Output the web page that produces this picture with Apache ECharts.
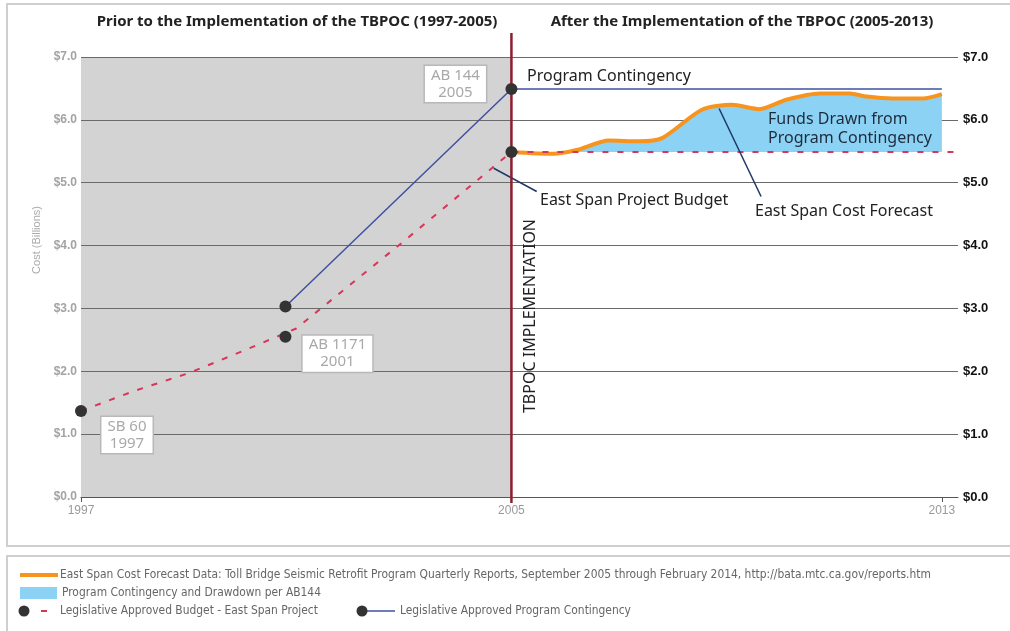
<!DOCTYPE html>
<html>
<head>
<meta charset="utf-8">
<script src="https://cdn.jsdelivr.net/npm/echarts@6/dist/echarts.min.js"></script>
<style>
html, body { margin: 0; padding: 0; background: #fff; }
#chart { width: 1010px; height: 631px; }
</style>
</head>
<body>
<div id="chart"></div>
<script>
// legislative budget for the east span (dashed red)
var budgetYears = [1997, 1998, 1999, 2000, 2001, 2003, 2005, 2013.3];
var budgetValues = [1.37, 1.69, 1.97, 2.32, 2.68, 4.07, 5.49, 5.49];

// approved budget milestones (dots)
var milestoneYears = [1997, 2000.8, 2005];
var milestoneValues = [1.37, 2.55, 5.49];
var milestoneLabels = ['SB 60\n1997', 'AB 1171\n2001', ''];

// program contingency (blue line)
var contYears = [2000.8, 2005, 2013];
var contValues = [3.03, 6.49, 6.49];
var contLabels = ['', 'AB 144\n2005'];

// east span cost forecast (orange), quarterly reports
var forecastYears = [2005.0, 2005.78, 2006.21, 2006.81, 2007.37, 2007.8, 2008.54, 2009.1,
                     2009.61, 2010.11, 2010.73, 2011.29, 2011.6, 2012.09, 2012.65, 2013.0];
var forecastValues = [5.49, 5.46, 5.52, 5.67, 5.66, 5.71, 6.16, 6.24,
                      6.17, 6.32, 6.42, 6.42, 6.37, 6.34, 6.34, 6.41];
var budgetBase = 5.49;

// period before TBPOC (gray band) and the implementation date
var priorYears = [1997, 2005];
var implYear = 2005;
var xLabelYears = [1997, 2005, 2013];

function pairs(xs, ys) {
    var out = [];
    for (var i = 0; i < xs.length; i++) out.push([xs[i], ys[i]]);
    return out;
}

var boxLabel = {
    show: true,
    position: 'inside',
    color: '#a9a9a9',
    fontFamily: 'Noto Sans',
    fontSize: 15,
    lineHeight: 17,
    backgroundColor: '#fff',
    borderColor: '#b8b8b8',
    borderWidth: 1.5,
    padding: [1, 6, 1, 6]
};
var labelOffsets = { 'SB 60\n1997': [46, 24], 'AB 1171\n2001': [52, 17], 'AB 144\n2005': [-56, -5] };

function dots(xs, ys, labels) {
    var out = [];
    for (var i = 0; i < xs.length; i++) {
        var item = { value: [xs[i], ys[i]] };
        if (labels[i]) {
            item.label = Object.assign({}, boxLabel, { formatter: labels[i], offset: labelOffsets[labels[i]] });
        }
        out.push(item);
    }
    return out;
}

var myChart = echarts.init(document.getElementById('chart'));
var noteFont = 'Noto Sans';
var legendFont = '"Liberation Sans Narrow", "DejaVu Sans Condensed", sans-serif';

var option = {
    animation: false,
    grid: [
        { left: 81, right: 52, top: 57, bottom: 134 },
        { left: 81, right: 52, top: 33, bottom: 128 }
    ],
    xAxis: [{
        type: 'value', min: 1997, max: 2013.3, interval: 8,
        axisLine: { lineStyle: { color: '#555', width: 1 } },
        axisTick: { show: true, length: 5, lineStyle: { color: '#555' }, customValues: xLabelYears },
        axisLabel: { color: '#9a9a9a', fontSize: 12, fontFamily: 'Liberation Sans', margin: 8,
            customValues: xLabelYears,
            formatter: function (v) { return xLabelYears.indexOf(v) >= 0 ? String(v) : ''; } },
        splitLine: { show: false }
    }, {
        gridIndex: 1, type: 'value', min: 1997, max: 2013.3, show: false
    }],
    yAxis: [{
        type: 'value', min: 0, max: 7, interval: 1,
        axisLine: { show: false }, axisTick: { show: false },
        axisLabel: { color: '#a3a3a3', fontSize: 12, fontWeight: 'bold', fontFamily: 'Liberation Sans', margin: 4,
            formatter: function (v) { return '$' + v.toFixed(1); } },
        splitLine: { lineStyle: { color: '#6a6a6a', width: 1.2 } }
    }, {
        gridIndex: 1, type: 'value', min: 0, max: 1, show: false
    }, {
        type: 'value', position: 'right', min: 0, max: 7, interval: 1,
        axisLine: { show: false }, axisTick: { show: false },
        axisLabel: { color: '#111', fontSize: 13, fontWeight: 'bold', fontFamily: 'Liberation Sans', margin: 5,
            formatter: function (v) { return '$' + v.toFixed(1); } },
        splitLine: { show: false }
    }],
    series: [{
        // gray band for the years before the TBPOC
        type: 'line', z: -1, silent: true, symbol: 'none',
        data: [[priorYears[0], 7], [priorYears[1], 7]],
        lineStyle: { width: 0 },
        areaStyle: { color: '#d3d3d3', opacity: 1 }
    }, {
        name: 'Program Contingency and Drawdown per AB144',
        type: 'line', z: 3, symbol: 'none', smooth: 0.25,
        data: pairs(forecastYears, forecastValues),
        lineStyle: { color: '#f7941d', width: 4 },
        areaStyle: { color: '#8cd2f4', opacity: 1, origin: budgetBase },
        markLine: {
            silent: true, symbol: 'none', label: { show: false },
            lineStyle: { color: '#1f3868', width: 1.5, type: 'solid' },
            data: [
                [{ coord: [2004.67, 5.23] }, { coord: [2005.47, 4.86] }],
                [{ coord: [2008.86, 6.18] }, { coord: [2009.64, 4.78] }]
            ]
        }
    }, {
        name: 'Legislative Approved Budget - East Span Project',
        type: 'line', z: 4, symbol: 'none',
        data: pairs(budgetYears, budgetValues),
        lineStyle: { color: '#d6365a', width: 2, type: [6, 9] }
    }, {
        name: 'Legislative Approved Program Contingency',
        type: 'line', z: 4, symbol: 'none',
        data: pairs(contYears, contValues),
        lineStyle: { color: '#3f51a3', width: 1.5 }
    }, {
        type: 'line', xAxisIndex: 1, yAxisIndex: 1, z: 5, symbol: 'none', silent: true,
        data: [[implYear, 0], [implYear, 1]],
        lineStyle: { color: '#8d1d2f', width: 2.5 }
    }, {
        type: 'scatter', z: 6, symbolSize: 12, silent: true,
        itemStyle: { color: '#333', opacity: 1 },
        data: dots(milestoneYears, milestoneValues, milestoneLabels)
    }, {
        type: 'scatter', z: 6, symbolSize: 12, silent: true,
        itemStyle: { color: '#333', opacity: 1 },
        data: dots(contYears.slice(0, 2), contValues.slice(0, 2), contLabels)
    }],
    graphic: [
        { type: 'rect', z: -10, shape: { x: 7, y: 4, width: 1020, height: 542 }, style: { fill: 'none', stroke: '#cfcfcf', lineWidth: 2 } },
        { type: 'rect', z: -10, shape: { x: 7, y: 556, width: 1020, height: 90 }, style: { fill: 'none', stroke: '#cfcfcf', lineWidth: 2 } },
        { type: 'text', x: 297, y: 22, style: { text: 'Prior to the Implementation of the TBPOC (1997-2005)', fontFamily: noteFont, fontSize: 15, fontWeight: 'bold', fill: '#222', align: 'center', verticalAlign: 'middle' } },
        { type: 'text', x: 742, y: 22, style: { text: 'After the Implementation of the TBPOC (2005-2013)', fontFamily: noteFont, fontSize: 15, fontWeight: 'bold', fill: '#222', align: 'center', verticalAlign: 'middle' } },
        { type: 'text', x: 37, y: 240, rotation: Math.PI / 2, style: { text: 'Cost (Billions)', fontFamily: 'Liberation Sans', fontSize: 11, fill: '#aaa', align: 'center', verticalAlign: 'middle' } },
        { type: 'text', x: 530, y: 316, z: 10, rotation: Math.PI / 2, style: { text: 'TBPOC IMPLEMENTATION', fontFamily: noteFont, fontSize: 16, fill: '#222', align: 'center', verticalAlign: 'middle' } },
        { type: 'text', x: 527, y: 76, z: 10, style: { text: 'Program Contingency', fontFamily: noteFont, fontSize: 16, fill: '#222', verticalAlign: 'middle' } },
        { type: 'text', x: 540, y: 200, z: 10, style: { text: 'East Span Project Budget', fontFamily: noteFont, fontSize: 16, fill: '#222', verticalAlign: 'middle' } },
        { type: 'text', x: 755, y: 211, z: 10, style: { text: 'East Span Cost Forecast', fontFamily: noteFont, fontSize: 16, fill: '#222', verticalAlign: 'middle' } },
        { type: 'text', x: 768, y: 129, z: 10, style: { text: 'Funds Drawn from\nProgram Contingency', fontFamily: noteFont, fontSize: 16, lineHeight: 19, fill: '#1d2b3d', verticalAlign: 'middle' } },

        // legend box
        { type: 'line', shape: { x1: 20, y1: 575, x2: 58, y2: 575 }, style: { stroke: '#f7941d', lineWidth: 4 } },
        { type: 'text', x: 60, y: 575, style: { text: 'East Span Cost Forecast Data: Toll Bridge Seismic Retrofit Program Quarterly Reports, September 2005 through February 2014, http://bata.mtc.ca.gov/reports.htm', fontFamily: legendFont, fontSize: 11.9, fill: '#666', verticalAlign: 'middle' } },
        { type: 'rect', shape: { x: 20, y: 587, width: 37, height: 12 }, style: { fill: '#8cd2f4' } },
        { type: 'text', x: 62, y: 593, style: { text: 'Program Contingency and Drawdown per AB144', fontFamily: legendFont, fontSize: 11.9, fill: '#666', verticalAlign: 'middle' } },
        { type: 'circle', shape: { cx: 24, cy: 611, r: 5.5 }, style: { fill: '#333' } },
        { type: 'line', shape: { x1: 41, y1: 611, x2: 47, y2: 611 }, style: { stroke: '#d6365a', lineWidth: 2 } },
        { type: 'text', x: 60, y: 611, style: { text: 'Legislative Approved Budget - East Span Project', fontFamily: legendFont, fontSize: 11.9, fill: '#666', verticalAlign: 'middle' } },
        { type: 'line', shape: { x1: 362, y1: 611, x2: 395, y2: 611 }, style: { stroke: '#3f51a3', lineWidth: 1.5 } },
        { type: 'circle', shape: { cx: 362, cy: 611, r: 5.5 }, style: { fill: '#333' } },
        { type: 'text', x: 400, y: 611, style: { text: 'Legislative Approved Program Contingency', fontFamily: legendFont, fontSize: 11.9, fill: '#666', verticalAlign: 'middle' } }
    ]
};
myChart.setOption(option);
</script>
</body>
</html>
